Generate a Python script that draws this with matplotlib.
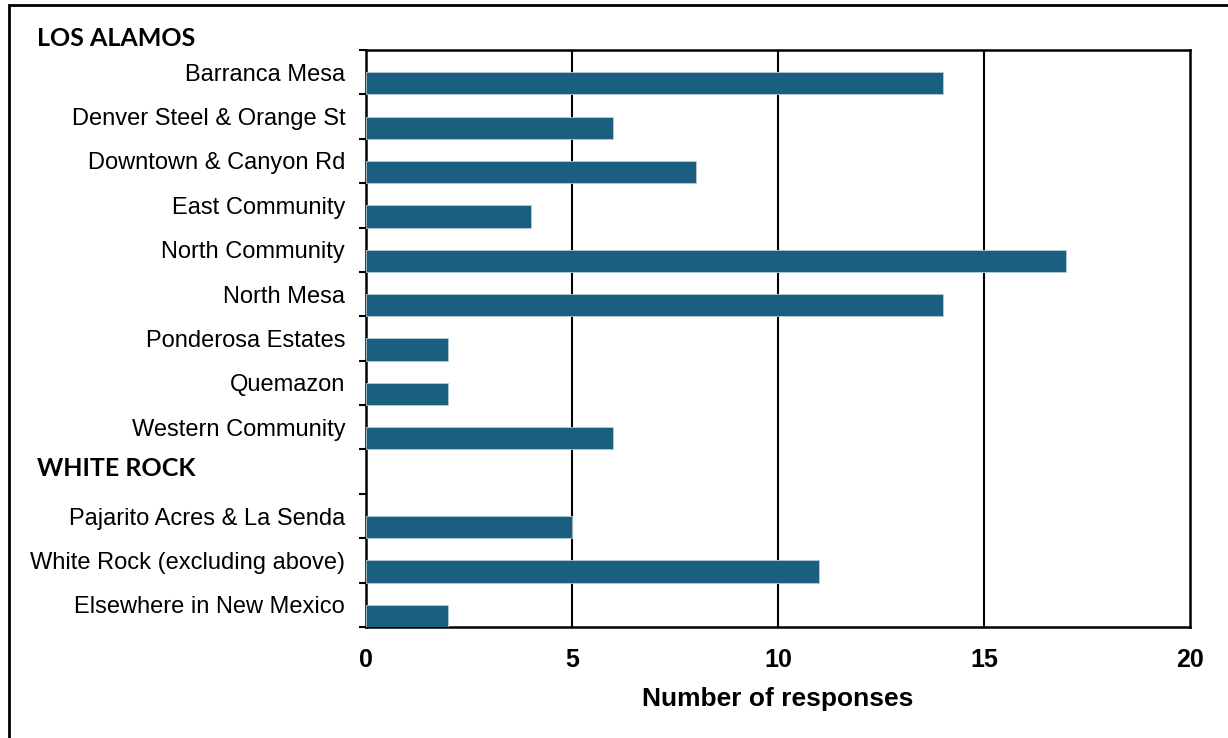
import matplotlib
matplotlib.use("Agg")
import matplotlib.pyplot as plt
from matplotlib.patches import Rectangle
import matplotlib.transforms as mtransforms

categories = ["Barranca Mesa", "Denver Steel & Orange St", "Downtown & Canyon Rd",
              "East Community", "North Community", "North Mesa", "Ponderosa Estates",
              "Quemazon", "Western Community", "", "Pajarito Acres & La Senda",
              "White Rock (excluding above)", "Elsewhere in New Mexico"]
values = [14, 6, 8, 4, 17, 14, 2, 2, 6, None, 5, 11, 2]
group_headers = ["LOS ALAMOS", "WHITE ROCK"]
xticks = [0, 5, 10, 15, 20]

bar_color = "#1a5f80"

fig = plt.figure(figsize=(12.28, 7.38), dpi=100)
ax = fig.add_axes([366/1228, 1-627/738, (1190-366)/1228, (627-50)/738])

n = len(categories)
pos = list(range(n))
bar_pos = [p + 0.25 for p, v in zip(pos, values) if v is not None]
bar_vals = [v for v in values if v is not None]
ax.barh(bar_pos, bar_vals, height=0.5, color=bar_color, edgecolor="#b8cdd8",
        linewidth=0.6, zorder=3)

ax.set_ylim(n - 0.5, -0.5)
ax.set_xlim(0, 20)

# major ticks at slot boundaries (marks only), minor ticks at centers (labels only)
ax.set_yticks([p - 0.5 for p in range(n + 1)])
ax.set_yticklabels([])
ax.set_yticks(pos, minor=True)
ax.set_yticklabels(categories, minor=True, fontsize=17, family="Liberation Sans")
ax.tick_params(axis="y", which="major", length=5, width=1.5, direction="out", color="black")
ax.tick_params(axis="y", which="minor", length=0, pad=15)

ax.set_xticks(xticks)
ax.set_xticklabels([str(x) for x in xticks], fontsize=18, fontweight="bold",
                   family="Liberation Sans")
ax.tick_params(axis="x", length=0, pad=15)
ax.set_xlabel("Number of responses", fontsize=19, fontweight="bold",
              family="Liberation Sans", labelpad=11)

for x in xticks[1:-1]:
    ax.axvline(x, color="black", linewidth=1.5, zorder=2)

for s in ax.spines.values():
    s.set_color("black")
    s.set_linewidth(1.8)

# group headers
fig.text(37/1228, 1-38/738, group_headers[0], fontsize=18, fontweight="bold",
         family="Lato", ha="left", va="center")
trans = mtransforms.blended_transform_factory(fig.transFigure, ax.transData)
fig.text(37/1228, 9 - 0.06, group_headers[1], fontsize=18, fontweight="bold",
         family="Lato", ha="left", va="center", transform=trans)

# figure border
fig.patches.append(Rectangle((9/1228, -0.05), 1.2, 1.05 - 5/738,
                             transform=fig.transFigure, fill=False,
                             edgecolor="black", linewidth=2))

fig.savefig("out.png", dpi=100)
